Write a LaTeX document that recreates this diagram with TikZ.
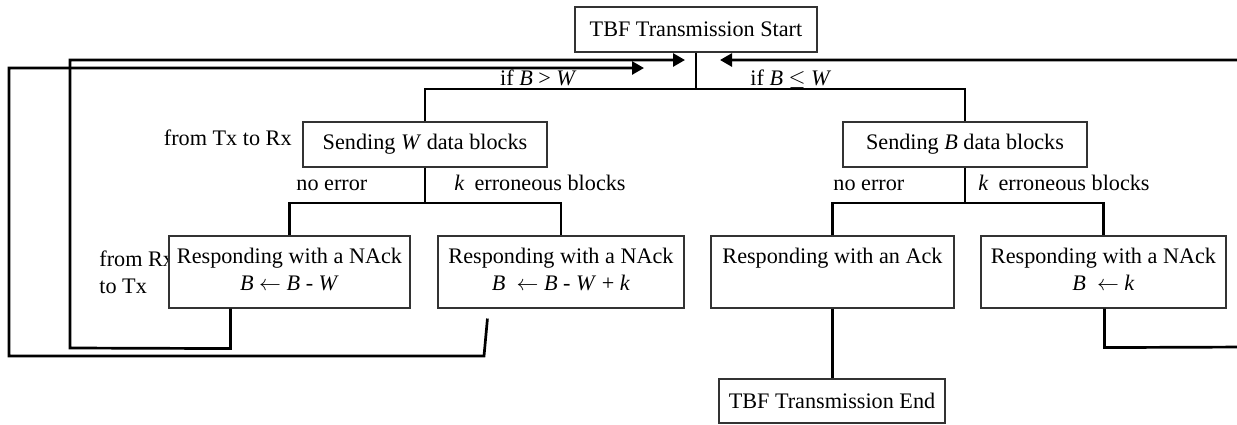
\documentclass[tikz,border=0pt]{standalone}
\usepackage{fontspec}
\setmainfont{Liberation Serif}
\usetikzlibrary{arrows.meta}
\begin{document}
\begin{tikzpicture}[x=0.5pt,y=-0.5pt,
  box/.style={draw=black!80, fill=white, line width=0.55pt, inner sep=0pt, align=center,
              font=\fontsize{11.1}{13.5}\selectfont},
  conn/.style={line width=1.35pt, line join=miter},
  lbl/.style={inner sep=0pt, font=\fontsize{11.1}{13.5}\selectfont},
  tip/.style={-{Triangle[length=6pt,width=6.5pt]}}]
\useasboundingbox (0,0) rectangle (1237,424);

% side labels (drawn first so the boxes cover them where they overlap)
\node[lbl, anchor=base west] (fromrx) at (99,266) {from Rx};
\node[lbl, anchor=base west] (totx) at (99,293) {to Tx};
\node[lbl, anchor=base east] (fromtx) at (292,145) {from Tx to Rx};
\node[lbl, anchor=base east] (lgt) at (577,85) {if \textit{B} > \textit{W}};
\node[lbl, anchor=base west] (lle) at (750,85) {if \textit{B} $\leq$ \textit{W}};
\node[lbl, anchor=base west] (noerr1) at (296,190) {no error};
\node[lbl, anchor=base west] (kerr1) at (454,190) {\textit{k}\hspace{5pt}erroneous blocks};
\node[lbl, anchor=base west] (noerr2) at (833,190) {no error};
\node[lbl, anchor=base west] (kerr2) at (978,190) {\textit{k}\hspace{5pt}erroneous blocks};

% boxes
\node[box, minimum width=121pt, minimum height=22.5pt] (start) at (696,29.5) {TBF Transmission Start};
\node[box, minimum width=122pt, minimum height=22.5pt] (sendW) at (425,144.5) {Sending \textit{W} data blocks};
\node[box, minimum width=122pt, minimum height=22.5pt] (sendB) at (965,144.5) {Sending \textit{B} data blocks};
\node[box, minimum width=120.5pt, minimum height=36pt] (r1) at (289.5,272)
  {\strut Responding with a NAck\\\strut\textit{B} $\leftarrow$ \textit{B} - \textit{W}};
\node[box, minimum width=123pt, minimum height=36pt] (r2) at (561,272)
  {\strut Responding with a NAck\\\strut\textit{B}\ \ $\leftarrow$ \textit{B} - \textit{W} + \textit{k}};
\node[box, minimum width=121.5pt, minimum height=36pt] (r3) at (832.5,272)
  {\strut Responding with an Ack\\\strut};
\node[box, minimum width=122.5pt, minimum height=36pt] (r4) at (1103.5,272)
  {\strut Responding with a NAck\\\strut\textit{B}\ \ $\leftarrow$ \textit{k}};
\node[box, minimum width=113pt, minimum height=22pt] (end) at (832,401) {TBF Transmission End};

% tree connectors
\coordinate (bar0) at (0,89);
\coordinate (bar1) at (0,203);
\draw[conn] (start.south) -- (start.south |- bar0);
\draw[conn] (sendW.north) -- (sendW.north |- bar0) -- (sendB.north |- bar0) -- (sendB.north);
\draw[conn] (sendW.south) -- (sendW.south |- bar1);
\draw[conn] (r1.north) -- (r1.north |- bar1) -- (r2.north |- bar1) -- (r2.north);
\draw[conn] (sendB.south) -- (sendB.south |- bar1);
\draw[conn] (r3.north) -- (r3.north |- bar1) -- (r4.north |- bar1) -- (r4.north);
\draw[conn] (r3.south) -- (r3.south |- end.north);

% feedback loops
\coordinate (a1) at (685,60);
\coordinate (a2) at (644,68);
\coordinate (a3) at (720,60);
\draw[conn,tip] ([xshift=31pt]r1.south west) -- ++(0,40) -- (70,348) -- (70,60) -- (a1);
\draw[conn,tip] ([shift={(25pt,-5pt)}]r2.south west) -- (484,356) -- (9,356) -- (9,68) -- (a2);
\draw[conn,tip] ([xshift=62pt]r4.south west) -- ++(0,39) -- (1250,347) -- (1250,60) -- (a3);
\end{tikzpicture}
\end{document}
